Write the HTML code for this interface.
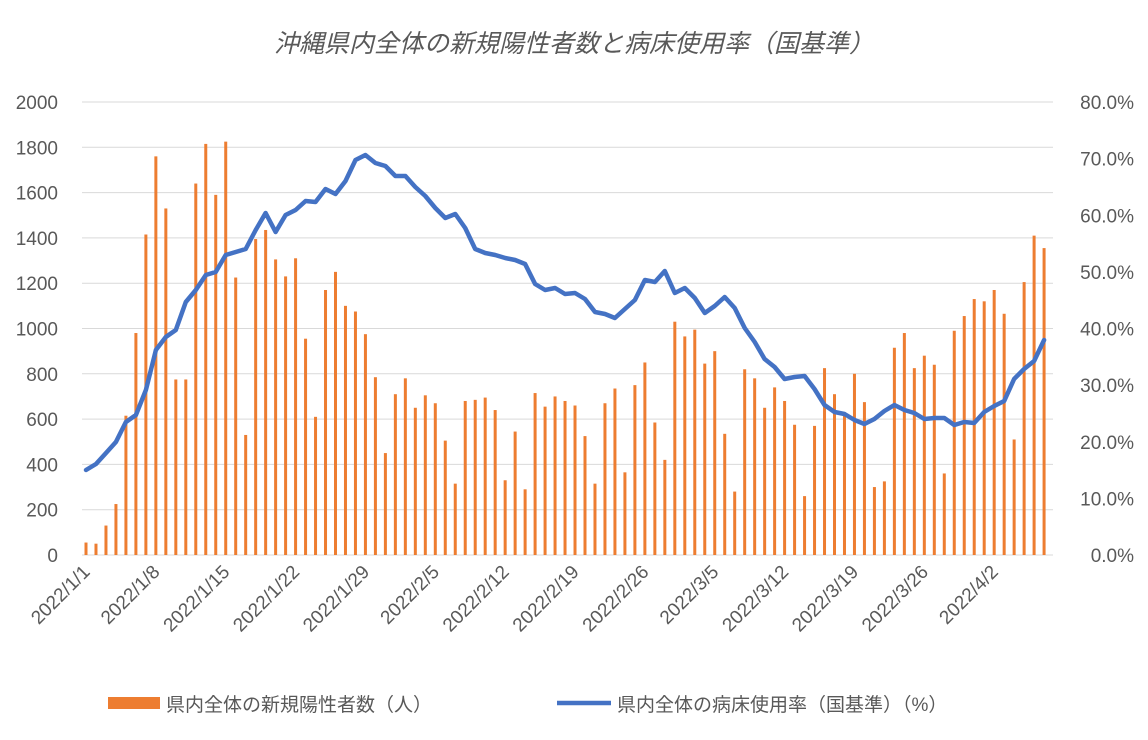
<!DOCTYPE html>
<html><head><meta charset="utf-8"><style>
body{margin:0;background:#fff;}
svg text{font-family:"Liberation Sans","Noto Sans CJK JP",sans-serif;fill:#595959;}
</style></head><body>
<svg width="1148" height="735" viewBox="0 0 1148 735" xmlns="http://www.w3.org/2000/svg">
<rect width="1148" height="735" fill="#fff"/>
<text x="574" y="52" text-anchor="middle" font-size="25" font-style="italic">沖縄県内全体の新規陽性者数と病床使用率（国基準）</text>
<g id="grid" stroke="#d9d9d9" stroke-width="1"></g>
<g id="yl" font-size="19" text-anchor="end"></g>
<g id="yr" font-size="19" text-anchor="end"></g>
<g id="bars" fill="#ed7d31"></g>
<polyline id="line" fill="none" stroke="#4472c4" stroke-width="4.5" stroke-linejoin="round" stroke-linecap="round"/>
<g id="xl" font-size="19"></g>
<rect x="108" y="697" width="52" height="12" fill="#ed7d31"/>
<text x="166" y="711" font-size="19">県内全体の新規陽性者数（人）</text>
<line x1="557" y1="703" x2="611" y2="703" stroke="#4472c4" stroke-width="4.5"/>
<text x="617" y="711" font-size="19">県内全体の病床使用率（国基準）（%）</text>
</svg>
<script>
var ns="http://www.w3.org/2000/svg";
function el(p,t,a,txt){var e=document.createElementNS(ns,t);for(var k in a)e.setAttribute(k,a[k]);if(txt!=null)e.textContent=txt;document.getElementById(p).appendChild(e);}
var y0=555,sc=(555-102)/2000;
for(var v=0;v<=2000;v+=200){var y=y0-v*sc;el("grid","line",{x1:82,x2:1053,y1:y,y2:y});el("yl","text",{x:58,y:y+7},v);}
for(var p=0;p<=80;p+=10){var y=y0-p*453/80;el("yr","text",{x:1134,y:y+7},p.toFixed(1)+"%");}
var b=[55,50,130,225,615,980,1415,1760,1530,775,775,1640,1815,1590,1825,1225,530,1395,1435,1305,1230,1310,955,610,1170,1250,1100,1075,975,785,450,710,780,650,705,670,505,315,680,685,695,640,330,545,290,715,655,700,680,660,525,315,670,735,365,750,850,585,420,1030,965,995,845,900,535,280,820,780,650,740,680,575,260,570,825,710,630,800,675,300,325,915,980,825,880,840,360,990,1055,1130,1120,1170,1065,510,1205,1410,1355];
var dx=9.98;
b.forEach(function(v,i){var x=86+i*dx;el("bars","rect",{x:x-1.5,y:y0-v*sc,width:3,height:v*sc});});
var ly=[470,464,453,442,422,415,390,350,337,330,302,290,275,272,255,252,249,230,213,232,215,210,201,202,189,194,181,160,155,163,166,176,176,187,196,208,218,214,228,249,253,255,258,260,264,284,290,288,294,293,299,312,314,318,309,300,280,282,271,293,288,298,313,306,297,308,328,342,359,367,379,377,376,389,405,412,414,420,424,419,411,405,410,413,419,418,418,425,422,423,412,406,401,379,369,361,340];
document.getElementById("line").setAttribute("points",ly.map(function(y,i){return (86+i*dx).toFixed(1)+","+y}).join(" "));
var labs=["2022/1/1","2022/1/8","2022/1/15","2022/1/22","2022/1/29","2022/2/5","2022/2/12","2022/2/19","2022/2/26","2022/3/5","2022/3/12","2022/3/19","2022/3/26","2022/4/2"];
labs.forEach(function(t,i){var x=86+i*7*dx+5;el("xl","text",{x:x,y:573,"text-anchor":"end",transform:"rotate(-45 "+x+" 573)"},t);});
</script>
</body></html>
